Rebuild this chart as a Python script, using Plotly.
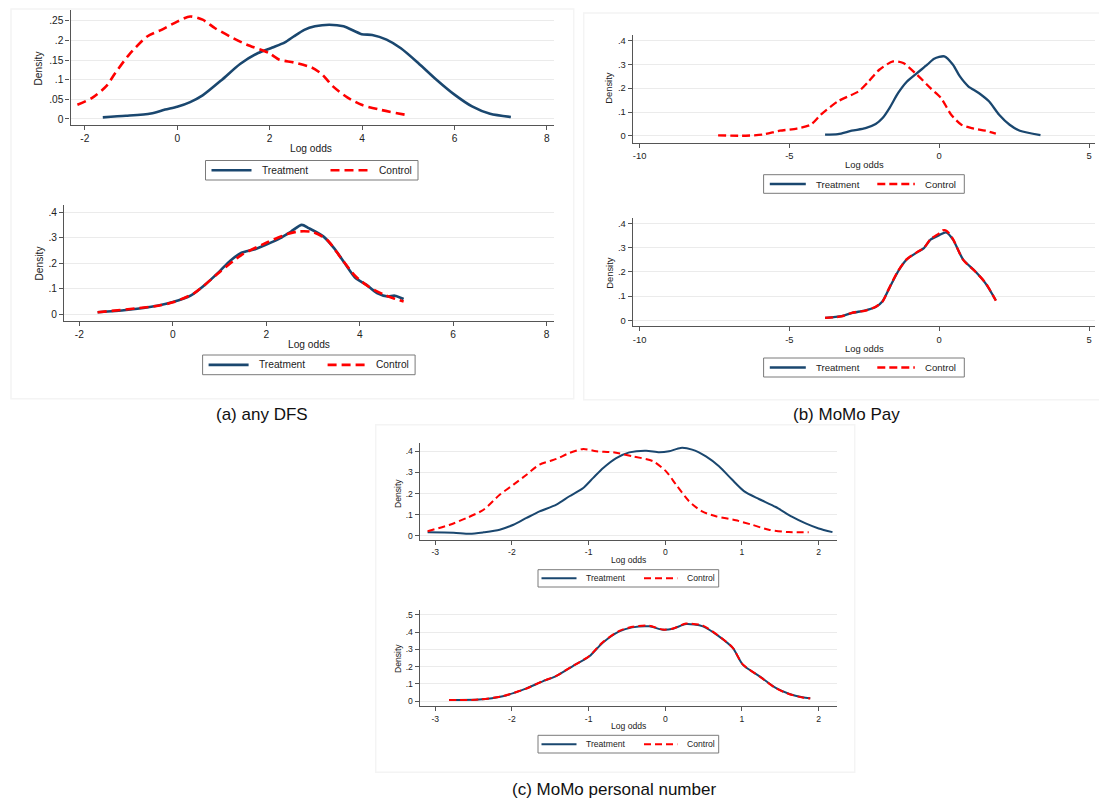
import plotly.graph_objects as go

# ---------------- data ----------------
a1_treat_x = [-1.61, -1.11, -0.57, -0.26, 0.0, 0.28, 0.55, 0.97, 1.36, 1.75, 2.06, 2.33, 2.52, 2.75, 2.98, 3.29, 3.60, 3.99, 4.22, 4.53, 4.84, 5.22, 5.61, 6.0, 6.38, 6.77, 7.22]
a1_treat_y = [0.004, 0.008, 0.014, 0.024, 0.031, 0.043, 0.060, 0.100, 0.140, 0.168, 0.182, 0.195, 0.210, 0.227, 0.236, 0.240, 0.236, 0.216, 0.214, 0.202, 0.180, 0.142, 0.100, 0.062, 0.032, 0.013, 0.005]
a1_ctrl_x = [-2.16, -1.85, -1.54, -1.34, -1.04, -0.65, -0.34, 0.0, 0.28, 0.55, 0.82, 1.21, 1.51, 1.98, 2.21, 2.52, 2.91, 3.14, 3.37, 3.68, 3.99, 4.37, 4.92]
a1_ctrl_y = [0.036, 0.053, 0.083, 0.117, 0.164, 0.210, 0.227, 0.248, 0.261, 0.253, 0.231, 0.206, 0.189, 0.168, 0.151, 0.144, 0.131, 0.113, 0.083, 0.055, 0.036, 0.024, 0.011]

a2_treat_x = [-1.61, -1.0, -0.31, 0.0, 0.38, 0.69, 1.0, 1.23, 1.46, 1.76, 1.99, 2.30, 2.53, 2.76, 2.91, 3.22, 3.45, 3.68, 3.91, 4.14, 4.37, 4.60, 4.75, 4.94]
a2_treat_y = [0.008, 0.017, 0.035, 0.048, 0.073, 0.116, 0.168, 0.210, 0.240, 0.255, 0.272, 0.298, 0.324, 0.350, 0.337, 0.305, 0.259, 0.200, 0.142, 0.116, 0.083, 0.070, 0.073, 0.060]
a2_ctrl_x = [-1.61, -0.31, 0.0, 0.46, 1.0, 1.46, 1.99, 2.45, 2.68, 2.99, 3.30, 3.60, 3.91, 4.21, 4.52, 4.75, 4.94]
a2_ctrl_y = [0.008, 0.034, 0.047, 0.083, 0.165, 0.231, 0.279, 0.314, 0.324, 0.322, 0.292, 0.220, 0.149, 0.106, 0.077, 0.061, 0.050]

b1_treat_x = [-3.81, -3.38, -2.92, -2.46, -2.12, -1.89, -1.66, -1.37, -1.09, -0.74, -0.40, -0.17, 0.17, 0.46, 0.69, 0.97, 1.32, 1.66, 2.00, 2.35, 2.69, 3.38]
b1_treat_y = [0.006, 0.008, 0.022, 0.033, 0.050, 0.075, 0.117, 0.180, 0.226, 0.263, 0.298, 0.323, 0.333, 0.298, 0.249, 0.208, 0.180, 0.145, 0.089, 0.047, 0.022, 0.004]
b1_ctrl_x = [-7.38, -6.58, -5.89, -5.32, -4.75, -4.29, -3.95, -3.38, -2.69, -2.35, -2.0, -1.54, -1.20, -0.74, -0.29, 0.06, 0.40, 0.74, 1.09, 1.54, 1.89]
b1_ctrl_y = [0.003, 0.001, 0.006, 0.022, 0.031, 0.047, 0.089, 0.145, 0.187, 0.229, 0.277, 0.312, 0.305, 0.256, 0.200, 0.159, 0.089, 0.047, 0.033, 0.022, 0.010]

b2_treat_x = [-3.81, -3.26, -2.92, -2.46, -2.12, -1.89, -1.66, -1.37, -1.09, -0.74, -0.51, -0.29, 0.0, 0.23, 0.46, 0.80, 1.20, 1.54, 1.89]
b2_treat_y = [0.010, 0.017, 0.030, 0.041, 0.055, 0.079, 0.134, 0.203, 0.251, 0.281, 0.299, 0.334, 0.352, 0.364, 0.334, 0.251, 0.203, 0.154, 0.083]
b2_ctrl_x = [-3.81, -3.26, -2.92, -2.46, -2.12, -1.89, -1.66, -1.37, -1.09, -0.74, -0.51, -0.29, 0.0, 0.12, 0.25, 0.46, 0.80, 1.20, 1.54, 1.89]
b2_ctrl_y = [0.010, 0.016, 0.031, 0.040, 0.056, 0.078, 0.136, 0.205, 0.252, 0.282, 0.300, 0.336, 0.360, 0.372, 0.370, 0.336, 0.250, 0.202, 0.156, 0.081]

c1_treat_x = [-3.10, -2.76, -2.55, -2.37, -2.16, -1.98, -1.81, -1.64, -1.42, -1.25, -1.07, -0.94, -0.81, -0.64, -0.47, -0.25, -0.08, 0.05, 0.20, 0.35, 0.53, 0.70, 0.87, 1.03, 1.22, 1.44, 1.65, 1.83, 2.0, 2.18]
c1_treat_y = [0.016, 0.014, 0.009, 0.016, 0.028, 0.052, 0.084, 0.115, 0.147, 0.187, 0.226, 0.274, 0.321, 0.368, 0.395, 0.403, 0.395, 0.400, 0.416, 0.408, 0.376, 0.329, 0.266, 0.210, 0.174, 0.136, 0.090, 0.058, 0.034, 0.017]
c1_ctrl_x = [-3.10, -2.81, -2.59, -2.37, -2.16, -1.98, -1.81, -1.64, -1.42, -1.25, -1.07, -0.90, -0.68, -0.42, -0.16, 0.01, 0.14, 0.31, 0.48, 0.66, 0.92, 1.13, 1.35, 1.61, 1.87]
c1_ctrl_y = [0.021, 0.052, 0.084, 0.123, 0.194, 0.242, 0.289, 0.337, 0.364, 0.392, 0.411, 0.400, 0.395, 0.376, 0.353, 0.305, 0.242, 0.163, 0.115, 0.092, 0.073, 0.052, 0.028, 0.017, 0.016]

c2_treat_x = [-2.82, -2.43, -2.12, -1.82, -1.60, -1.43, -1.21, -0.99, -0.82, -0.60, -0.43, -0.21, -0.03, 0.10, 0.27, 0.49, 0.70, 0.88, 1.01, 1.23, 1.44, 1.62, 1.79, 1.89]
c2_treat_y = [0.008, 0.010, 0.029, 0.073, 0.115, 0.144, 0.202, 0.260, 0.337, 0.404, 0.427, 0.433, 0.413, 0.419, 0.446, 0.433, 0.375, 0.308, 0.212, 0.144, 0.077, 0.042, 0.023, 0.017]
c2_ctrl_x = [-2.82, -2.43, -2.12, -1.82, -1.60, -1.43, -1.21, -0.99, -0.82, -0.60, -0.43, -0.21, -0.03, 0.10, 0.27, 0.49, 0.70, 0.88, 1.01, 1.23, 1.44, 1.62, 1.79, 1.89]
c2_ctrl_y = [0.007, 0.010, 0.030, 0.072, 0.116, 0.145, 0.203, 0.262, 0.340, 0.407, 0.430, 0.437, 0.414, 0.420, 0.449, 0.437, 0.377, 0.309, 0.213, 0.143, 0.076, 0.041, 0.022, 0.016]

a_xticks = [-2, 0, 2, 4, 6, 8]
b_xticks = [-10, -5, 0, 5]
c_xticks = [-3, -2, -1, 0, 1, 2]
a1_yticks = [0, 0.05, 0.1, 0.15, 0.2, 0.25]
a1_yticklabels = ["0", ".05", ".1", ".15", ".2", ".25"]
y4_ticks = [0, 0.1, 0.2, 0.3, 0.4]
y4_labels = ["0", ".1", ".2", ".3", ".4"]
y5_ticks = [0, 0.1, 0.2, 0.3, 0.4, 0.5]
y5_labels = ["0", ".1", ".2", ".3", ".4", ".5"]

series_names = ["Treatment", "Control"]
captions = ["(a) any DFS", "(b) MoMo Pay", "(c) MoMo personal number"]

# ---------------- layout (pixel geometry) ----------------
W, H = 1107, 803
NAVY = "#1a476f"
RED = "#ff0000"
FONT = "Liberation Sans, Arial, sans-serif"
TXT = "#222222"


def fx(px):
    return px / W


def fy(py):
    return 1 - py / H


LEG_A = dict(w=212.5, s=6, ln=40, gap=8.5, c=125, cln=38, fs=10.2)
LEG_B = dict(w=200.7, s=6.2, ln=36, gap=8.5, c=113.7, cln=37.5, fs=9.6)
LEG_C = dict(w=180.7, s=3.5, ln=35, gap=7.7, c=106, cln=33.3, fs=8.6)

panels = [
    dict(data=(a1_treat_x, a1_treat_y, a1_ctrl_x, a1_ctrl_y), box=(62.5, 546.4, 2, 117),
         xr=[-2.309, 8.162], yr=[-0.0154, 0.2775], xt=a_xticks, yt=a1_yticks, ytl=a1_yticklabels,
         fs=10.2, lw=2.6, dens=(30.5, 60), logo=(303, 140.5),
         leg=dict(LEG_A, x=197.5, y0=152.5, y1=172)),
    dict(data=(a2_treat_x, a2_treat_y, a2_ctrl_x, a2_ctrl_y), box=(56.1, 546.4, 196.7, 312.7),
         xr=[-2.327, 8.167], yr=[-0.0248, 0.4288], xt=a_xticks, yt=y4_ticks, ytl=y4_labels,
         fs=10.2, lw=2.6, dens=(31.5, 255), logo=(301, 336),
         leg=dict(LEG_A, x=194.6, y0=347, y1=366.7)),
    dict(data=(b1_treat_x, b1_treat_y, b1_ctrl_x, b1_ctrl_y), box=(624.8, 1087.1, 26.7, 135),
         xr=[-10.227, 5.203], yr=[-0.0293, 0.4236], xt=b_xticks, yt=y4_ticks, ytl=y4_labels,
         fs=9.4, lw=2.3, dens=(600.8, 80), logo=(856, 156),
         leg=dict(LEG_B, x=755.6, y0=166.7, y1=185.3)),
    dict(data=(b2_treat_x, b2_treat_y, b2_ctrl_x, b2_ctrl_y), box=(624.8, 1087.1, 210, 318.3),
         xr=[-10.227, 5.203], yr=[-0.025, 0.4234], xt=b_xticks, yt=y4_ticks, ytl=y4_labels,
         fs=9.4, lw=2.3, dens=(600.8, 265), logo=(856, 341),
         leg=dict(LEG_B, x=755.6, y0=350, y1=369)),
    dict(data=(c1_treat_x, c1_treat_y, c1_ctrl_x, c1_ctrl_y), box=(411.7, 829.3, 435, 531.7),
         xr=[-3.203, 2.243], yr=[-0.019, 0.4393], xt=c_xticks, yt=y4_ticks, ytl=y4_labels,
         fs=8.6, lw=2.0, dens=(390, 485), logo=(620, 552.3),
         leg=dict(LEG_C, x=530, y0=561.7, y1=579)),
    dict(data=(c2_treat_x, c2_treat_y, c2_ctrl_x, c2_ctrl_y), box=(411.7, 829.3, 601.7, 698.3),
         xr=[-3.203, 2.243], yr=[-0.0289, 0.529], xt=c_xticks, yt=y5_ticks, ytl=y5_labels,
         fs=8.6, lw=2.0, dens=(390, 650), logo=(620, 718.3),
         leg=dict(LEG_C, x=530, y0=727.3, y1=745)),
]

fig = go.Figure()
layout = dict(
    width=W, height=H, margin=dict(l=0, r=0, t=0, b=0),
    paper_bgcolor="white", plot_bgcolor="white",
    font=dict(family=FONT, color=TXT),
    annotations=[], shapes=[], showlegend=False,
)

# faint panel frames
for (x0, x1, y0, y1) in [(3, 565.7, 1, 390.7), (575.7, 1105, 5, 391.7), (367.7, 846.7, 416.7, 764.3)]:
    layout["shapes"].append(dict(type="rect", xref="paper", yref="paper",
                                 x0=fx(x0), x1=fx(x1), y0=fy(y1), y1=fy(y0),
                                 line=dict(color="#f4f4f4", width=1.5), fillcolor="rgba(0,0,0,0)",
                                 layer="below"))


def dash_for(lw):
    return "%dpx,%dpx" % (round(lw * 3.3), round(lw * 1.8))


for i, p in enumerate(panels):
    n = i + 1
    sfx = "" if n == 1 else str(n)
    tx, ty, cx, cy = p["data"]
    fig.add_trace(go.Scatter(x=tx, y=ty, mode="lines", name=series_names[0],
                             line=dict(color=NAVY, width=p["lw"], shape="spline", smoothing=0.7),
                             xaxis="x" + sfx, yaxis="y" + sfx))
    fig.add_trace(go.Scatter(x=cx, y=cy, mode="lines", name=series_names[1],
                             line=dict(color=RED, width=p["lw"], shape="spline", smoothing=0.7,
                                       dash=dash_for(p["lw"])),
                             xaxis="x" + sfx, yaxis="y" + sfx))
    x0, x1, y0, y1 = p["box"]
    tickfont = dict(family=FONT, size=p["fs"], color=TXT)
    layout["xaxis" + sfx] = dict(
        domain=[fx(x0), fx(x1)], anchor="y" + sfx, range=p["xr"],
        tickmode="array", tickvals=p["xt"], ticktext=[str(v) for v in p["xt"]],
        showline=True, linecolor="#555555", linewidth=1.2, ticks="outside", ticklen=4,
        tickcolor="#555555", tickwidth=1, showgrid=False, zeroline=False, tickfont=tickfont,
        fixedrange=True,
    )
    layout["yaxis" + sfx] = dict(
        domain=[fy(y1), fy(y0)], anchor="x" + sfx, range=p["yr"],
        tickmode="array", tickvals=p["yt"], ticktext=p["ytl"],
        showline=True, linecolor="#555555", linewidth=1.2, ticks="outside", ticklen=4,
        tickcolor="#555555", tickwidth=1, showgrid=True, gridcolor="#ebebeb", gridwidth=1.2,
        zeroline=False, tickfont=tickfont, fixedrange=True,
    )
    dx, dy = p["dens"]
    layout["annotations"].append(dict(text="Density", x=fx(dx), y=fy(dy), xref="paper", yref="paper",
                                      showarrow=False, textangle=-90, xanchor="center", yanchor="middle",
                                      font=dict(family=FONT, size=p["fs"], color=TXT)))
    lx, ly = p["logo"]
    layout["annotations"].append(dict(text="Log odds", x=fx(lx), y=fy(ly), xref="paper", yref="paper",
                                      showarrow=False, xanchor="center", yanchor="middle",
                                      font=dict(family=FONT, size=p["fs"], color=TXT)))

    # legend box (drawn like the Stata legend)
    L = p["leg"]
    lx0 = L["x"]
    lx1 = lx0 + L["w"]
    ymid = (L["y0"] + L["y1"]) / 2
    layout["shapes"].append(dict(type="rect", xref="paper", yref="paper",
                                 x0=fx(lx0), x1=fx(lx1), y0=fy(L["y1"]), y1=fy(L["y0"]),
                                 line=dict(color="#7a7a7a", width=1), fillcolor="white"))
    items = [(series_names[0], NAVY, "solid", L["s"], L["ln"]),
             (series_names[1], RED, dash_for(p["lw"]), L["c"], L["cln"])]
    for name, col, dsh, off, ln in items:
        sx = lx0 + off
        layout["shapes"].append(dict(type="line", xref="paper", yref="paper",
                                     x0=fx(sx), x1=fx(sx + ln), y0=fy(ymid), y1=fy(ymid),
                                     line=dict(color=col, width=p["lw"], dash=dsh)))
        layout["annotations"].append(dict(text=name, x=fx(sx + ln + L["gap"]), y=fy(ymid),
                                          xref="paper", yref="paper", showarrow=False,
                                          xanchor="left", yanchor="middle",
                                          font=dict(family=FONT, size=L["fs"], color=TXT)))

for text, (cx_, cy_) in zip(captions, [(254, 406), (838, 406), (606, 781)]):
    layout["annotations"].append(dict(text=text, x=fx(cx_), y=fy(cy_), xref="paper", yref="paper",
                                      showarrow=False, xanchor="center", yanchor="middle",
                                      font=dict(family=FONT, size=17, color="#111111")))

fig.update_layout(**layout)
fig.write_html("out.html")
